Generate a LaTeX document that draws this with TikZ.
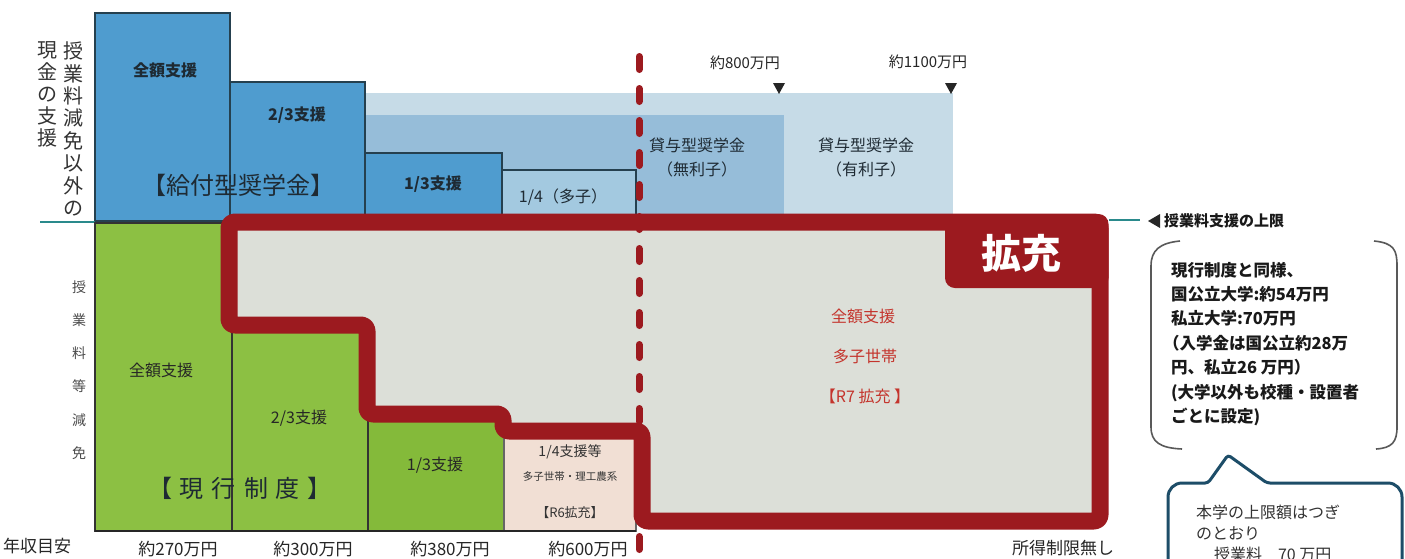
\documentclass[tikz,border=0pt]{standalone}
\usepackage{fontspec}
\setmainfont{Noto Sans CJK JP}
\newcommand\fsz[2]{\fontsize{#1pt}{#2pt}\selectfont}
\definecolor{blueA}{HTML}{4F9CCF}
\definecolor{blueB}{HTML}{A3C9E0}
\definecolor{midband}{HTML}{96BDD9}
\definecolor{lightband}{HTML}{C6DBE7}
\definecolor{boxline}{HTML}{25404F}
\definecolor{greenA}{HTML}{8CC043}
\definecolor{greenB}{HTML}{84BA3A}
\definecolor{pinkA}{HTML}{F1DFD4}
\definecolor{redc}{HTML}{9C1A1F}
\definecolor{redtxt}{HTML}{C4342C}
\definecolor{grayfill}{HTML}{DCDFD8}
\definecolor{tealc}{HTML}{2A8A8C}
\definecolor{calloutc}{HTML}{1D4D68}
\definecolor{txtc}{HTML}{1E2A33}
\tikzset{
  bluebox/.style={fill=blueA, draw=boxline, line width=1.2pt},
  greenbox/.style={fill=greenA, draw=black!80, line width=1.2pt},
  lbl/.style={text=txtc, font=\fsz{16}{19}\bfseries},
  biglbl/.style={text=txtc, font=\fsz{24}{28}},
  axislbl/.style={text=black!85, font=\fsz{17}{20}},
  vtext/.style={text=black!80, align=center},
  redlbl/.style={text=redtxt, font=\fsz{16}{19}},
  tri/.style={fill=black!85},
}
\begin{document}
\begin{tikzpicture}[x=1pt,y=-1pt, every node/.style={inner sep=0pt, outer sep=0pt}]
\useasboundingbox (0,0) rectangle (1405,558);
\fill[white] (0,0) rectangle (1405,558);

% loan bands
\fill[lightband] (365,93) rectangle (953,221);
\fill[midband] (365,115) rectangle (784,221);

% grant (blue) boxes
\draw[bluebox] (95,13) rectangle (230,221);
\draw[bluebox] (230,82) rectangle (365,221);
\draw[bluebox] (365,153) rectangle (502,221);
\draw[bluebox, fill=blueB] (502,170) rectangle (636,221);
\draw[boxline, line width=3pt] (95,221) -- (640,221);

% teal guide lines
\coordinate (gl1) at (40,222);
\coordinate (gl2) at (95,222);
\draw[tealc, line width=1.5pt] (gl1) -- (gl2);

% tuition (green) boxes
\draw[greenbox] (95,223) rectangle (232,531);
\draw[greenbox] (232,223) rectangle (368,531);
\draw[greenbox, fill=greenB] (368,223) rectangle (504,531);
\draw[greenbox, fill=pinkA, draw=black!60] (504,223) rectangle (636,531);
\draw[black!85, line width=2pt] (95,531) -- (636,531);

% expanded region
\filldraw[fill=grayfill, draw=redc, line width=17pt, line join=round, rounded corners=6pt]
  (229,222) -- (1100,222) -- (1100,521) -- (642,521) -- (642,431) -- (503,431)
  -- (503,414) -- (367,414) -- (367,325) -- (229,325) -- cycle;
\fill[redc, rounded corners=10pt] (945,214) -- (945,288) -- (1108.5,288) -- (1108.5,214) -- cycle;
\node[text=white, font=\fsz{40}{44}\bfseries] (kakuju) at (1021,253) {拡充};

% dashed divider
\draw[redc, line width=7pt, line cap=round, dash pattern=on 13pt off 19pt] (639,56.5) -- (639,560);

% right teal line and label
\coordinate (gr1) at (1109,220);
\coordinate (gr2) at (1140,220);
\draw[tealc, line width=1.5pt] (gr1) -- (gr2);
\fill[black!85] (1148,221) -- (1160,214) -- (1160,228) -- cycle;
\node[anchor=west, font=\fsz{15}{18}\bfseries, text=black!90] (limit) at (1164,221) {授業料支援の上限};

% brackets
\draw[black!65, line width=1.6pt] (1180,241) .. controls (1160,243) and (1151,250) .. (1151,266) -- (1151,427) .. controls (1151,442) and (1160,448) .. (1182,449);
\draw[black!65, line width=1.6pt] (1374,241) .. controls (1394,243) and (1397,250) .. (1397,266) -- (1397,427) .. controls (1397,442) and (1392,448) .. (1376,449);
\node[anchor=west, align=left, font=\fsz{16.5}{24.4}\bfseries, text=black!90] (upper) at (1171,344)
 {現行制度と同様、\\国公立大学:約54万円\\私立大学:70万円\\\hspace*{-8pt}（入学金は国公立約28万\\円、私立26 万円）\\(大学以外も校種・設置者\\ごとに設定)};

% callout
\draw[calloutc, line width=3pt, fill=white, rounded corners=14pt]
  (1168,575) -- (1168,483) [rounded corners=3pt] -- (1208,483) -- (1228,455) -- (1267,483) [rounded corners=14pt] -- (1402,483) -- (1402,575);
\node[anchor=west, font=\fsz{16}{19}, text=black!80] (c1) at (1196,512) {本学の上限額はつぎ};
\node[anchor=west, font=\fsz{16}{19}, text=black!80] (c2) at (1196,533) {のとおり};
\node[anchor=west, font=\fsz{16}{19}, text=black!80] (c3) at (1214,554) {授業料　70 万円};

% markers 800 / 1100
\node[font=\fsz{15}{18}, text=black!85] (m800) at (745,63) {約800万円};
\node[font=\fsz{15}{18}, text=black!85] (m1100) at (928,62) {約1100万円};
\fill[tri] (773,83) -- (785,83) -- (779,94) -- cycle;
\fill[tri] (945,83) -- (957,83) -- (951,94) -- cycle;

% left vertical captions
\node[vtext, font=\fsz{20}{22.4}] (v1) at (73,129) {授\\業\\料\\減\\免\\以\\外\\の};
\node[vtext, font=\fsz{20}{22}] (v2) at (47,94) {現\\金\\の\\支\\援};
\node[vtext, font=\fsz{14}{33.2}, text=black!70] (v3) at (79,370) {授\\業\\料\\等\\減\\免};

% blue labels
\node[lbl] (b1) at (165,70) {全額支援};
\node[lbl] (b2) at (297,115) {2/3支援};
\node[biglbl] (b3) at (238,185) {【給付型奨学金】};
\node[lbl] (b4) at (433,184) {1/3支援};
\node[lbl, font=\fsz{16}{19}] (b5) at (563,197) {1/4（多子）};
\node[lbl, align=center, font=\fsz{16}{24}] (b6) at (697,158) {貸与型奨学金\\（無利子）};
\node[lbl, align=center, font=\fsz{16}{24}] (b7) at (866,158) {貸与型奨学金\\（有利子）};

% green labels
\node[lbl, font=\fsz{16}{19}, text=black!85] (g1) at (161,370) {全額支援};
\node[lbl, font=\fsz{16}{19}, text=black!85] (g2) at (299,418) {2/3支援};
\node[lbl, font=\fsz{16}{19}, text=black!85] (g3) at (435,465) {1/3支援};
\node[biglbl] (g4) at (240,488) {【\hspace{8pt}現\hspace{8pt}行\hspace{8pt}制\hspace{8pt}度\hspace{8pt}】};
\node[font=\fsz{14}{17}, text=black!80] (p1) at (570,452) {1/4支援等};
\node[font=\fsz{10.5}{13}, text=black!80] (p2) at (570,477) {多子世帯・理工農系};
\node[font=\fsz{13}{16}, text=black!80] (p3) at (570,513) {【R6拡充】};

% red labels
\node[redlbl] (r1) at (863,316) {全額支援};
\node[redlbl] (r2) at (865,356) {多子世帯};
\node[redlbl] (r3) at (865,396) {【R7 拡充 】};

% bottom axis
\node[axislbl] (x0) at (37,546) {年収目安};
\node[axislbl] (x1) at (178,549) {約270万円};
\node[axislbl] (x2) at (313,549) {約300万円};
\node[axislbl] (x3) at (450,549) {約380万円};
\node[axislbl] (x4) at (588,549) {約600万円};
\node[axislbl] (x5) at (1063,548) {所得制限無し};
\end{tikzpicture}
\end{document}
